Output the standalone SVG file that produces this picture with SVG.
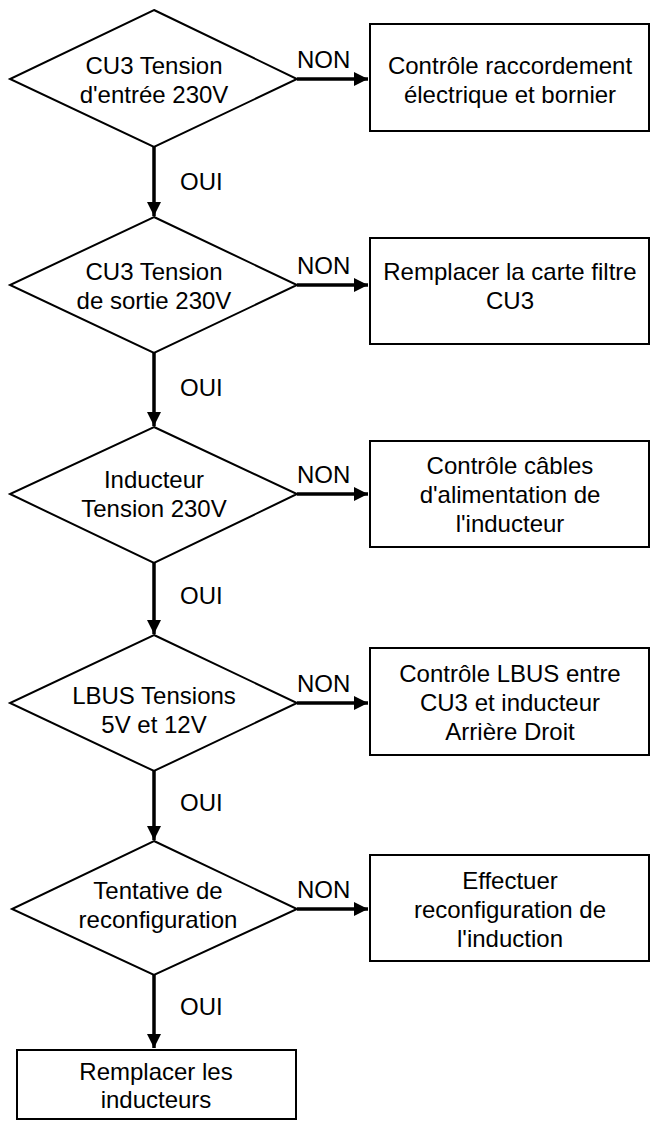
<svg xmlns="http://www.w3.org/2000/svg" width="654" height="1121" viewBox="0 0 654 1121">
<style>
.s{fill:#fff;stroke:#000;stroke-width:2}
.c{stroke:#000;stroke-width:3.5;fill:none;marker-end:url(#a)}
text{font-family:"Liberation Sans",Arial,sans-serif;font-size:24px;fill:#000;text-anchor:middle}
.l{text-anchor:start}
</style>
<defs><marker id="a" viewBox="0 0 10 10" refX="10" refY="5" markerWidth="4" markerHeight="4" orient="auto" markerUnits="strokeWidth"><path d="M0,0L10,5L0,10z"/></marker></defs>
<rect width="654" height="1121" fill="#fff"/>
<g id="connectors">
<path class="c" d="M297,79H368"/><path class="c" d="M154,147V216"/>
<path class="c" d="M297,285H368"/><path class="c" d="M154,353V426"/>
<path class="c" d="M297,494H368"/><path class="c" d="M154,563V634"/>
<path class="c" d="M297,703H368"/><path class="c" d="M154,771V840"/>
<path class="c" d="M297,909H368"/><path class="c" d="M154,975V1048"/>
<text class="l" x="297" y="68">NON</text><text class="l" x="180" y="190">OUI</text>
<text class="l" x="297" y="274">NON</text><text class="l" x="180" y="396">OUI</text>
<text class="l" x="297" y="483">NON</text><text class="l" x="180" y="604">OUI</text>
<text class="l" x="297" y="692">NON</text><text class="l" x="180" y="811">OUI</text>
<text class="l" x="297" y="898">NON</text><text class="l" x="180" y="1015">OUI</text>
</g>
<g id="d1"><path class="s" d="M154,10L297,79L154,147L10,79z"/><text x="154" y="74">CU3 Tension</text><text x="154" y="103">d'entrée 230V</text></g>
<g id="b1"><rect class="s" x="370" y="24" width="279" height="107"/><text x="510" y="74">Contrôle raccordement</text><text x="510" y="103">électrique et bornier</text></g>
<g id="d2"><path class="s" d="M154,217L297,285L154,353L10,285z"/><text x="154" y="280">CU3 Tension</text><text x="154" y="309">de sortie 230V</text></g>
<g id="b2"><rect class="s" x="370" y="238" width="279" height="106"/><text x="510" y="280">Remplacer la carte filtre</text><text x="510" y="309">CU3</text></g>
<g id="d3"><path class="s" d="M154,427L297,494L154,563L10,494z"/><text x="154" y="488">Inducteur</text><text x="154" y="517">Tension 230V</text></g>
<g id="b3"><rect class="s" x="370" y="441" width="279" height="106"/><text x="510" y="474">Contrôle câbles</text><text x="510" y="503">d'alimentation de</text><text x="510" y="532">l'inducteur</text></g>
<g id="d4"><path class="s" d="M154,635L297,703L154,771L10,703z"/><text x="154" y="704">LBUS Tensions</text><text x="154" y="733">5V et 12V</text></g>
<g id="b4"><rect class="s" x="370" y="648" width="279" height="107"/><text x="510" y="682">Contrôle LBUS entre</text><text x="510" y="711">CU3 et inducteur</text><text x="510" y="740">Arrière Droit</text></g>
<g id="d5"><path class="s" d="M154,841L297,909L154,975L12,909z"/><text x="158" y="899">Tentative de</text><text x="158" y="928">reconfiguration</text></g>
<g id="b5"><rect class="s" x="370" y="855" width="279" height="106"/><text x="510" y="889">Effectuer</text><text x="510" y="918">reconfiguration de</text><text x="510" y="947">l'induction</text></g>
<g id="b6"><rect class="s" x="17" y="1050" width="279" height="69"/><text x="156" y="1080">Remplacer les</text><text x="156" y="1108">inducteurs</text></g>
</svg>
